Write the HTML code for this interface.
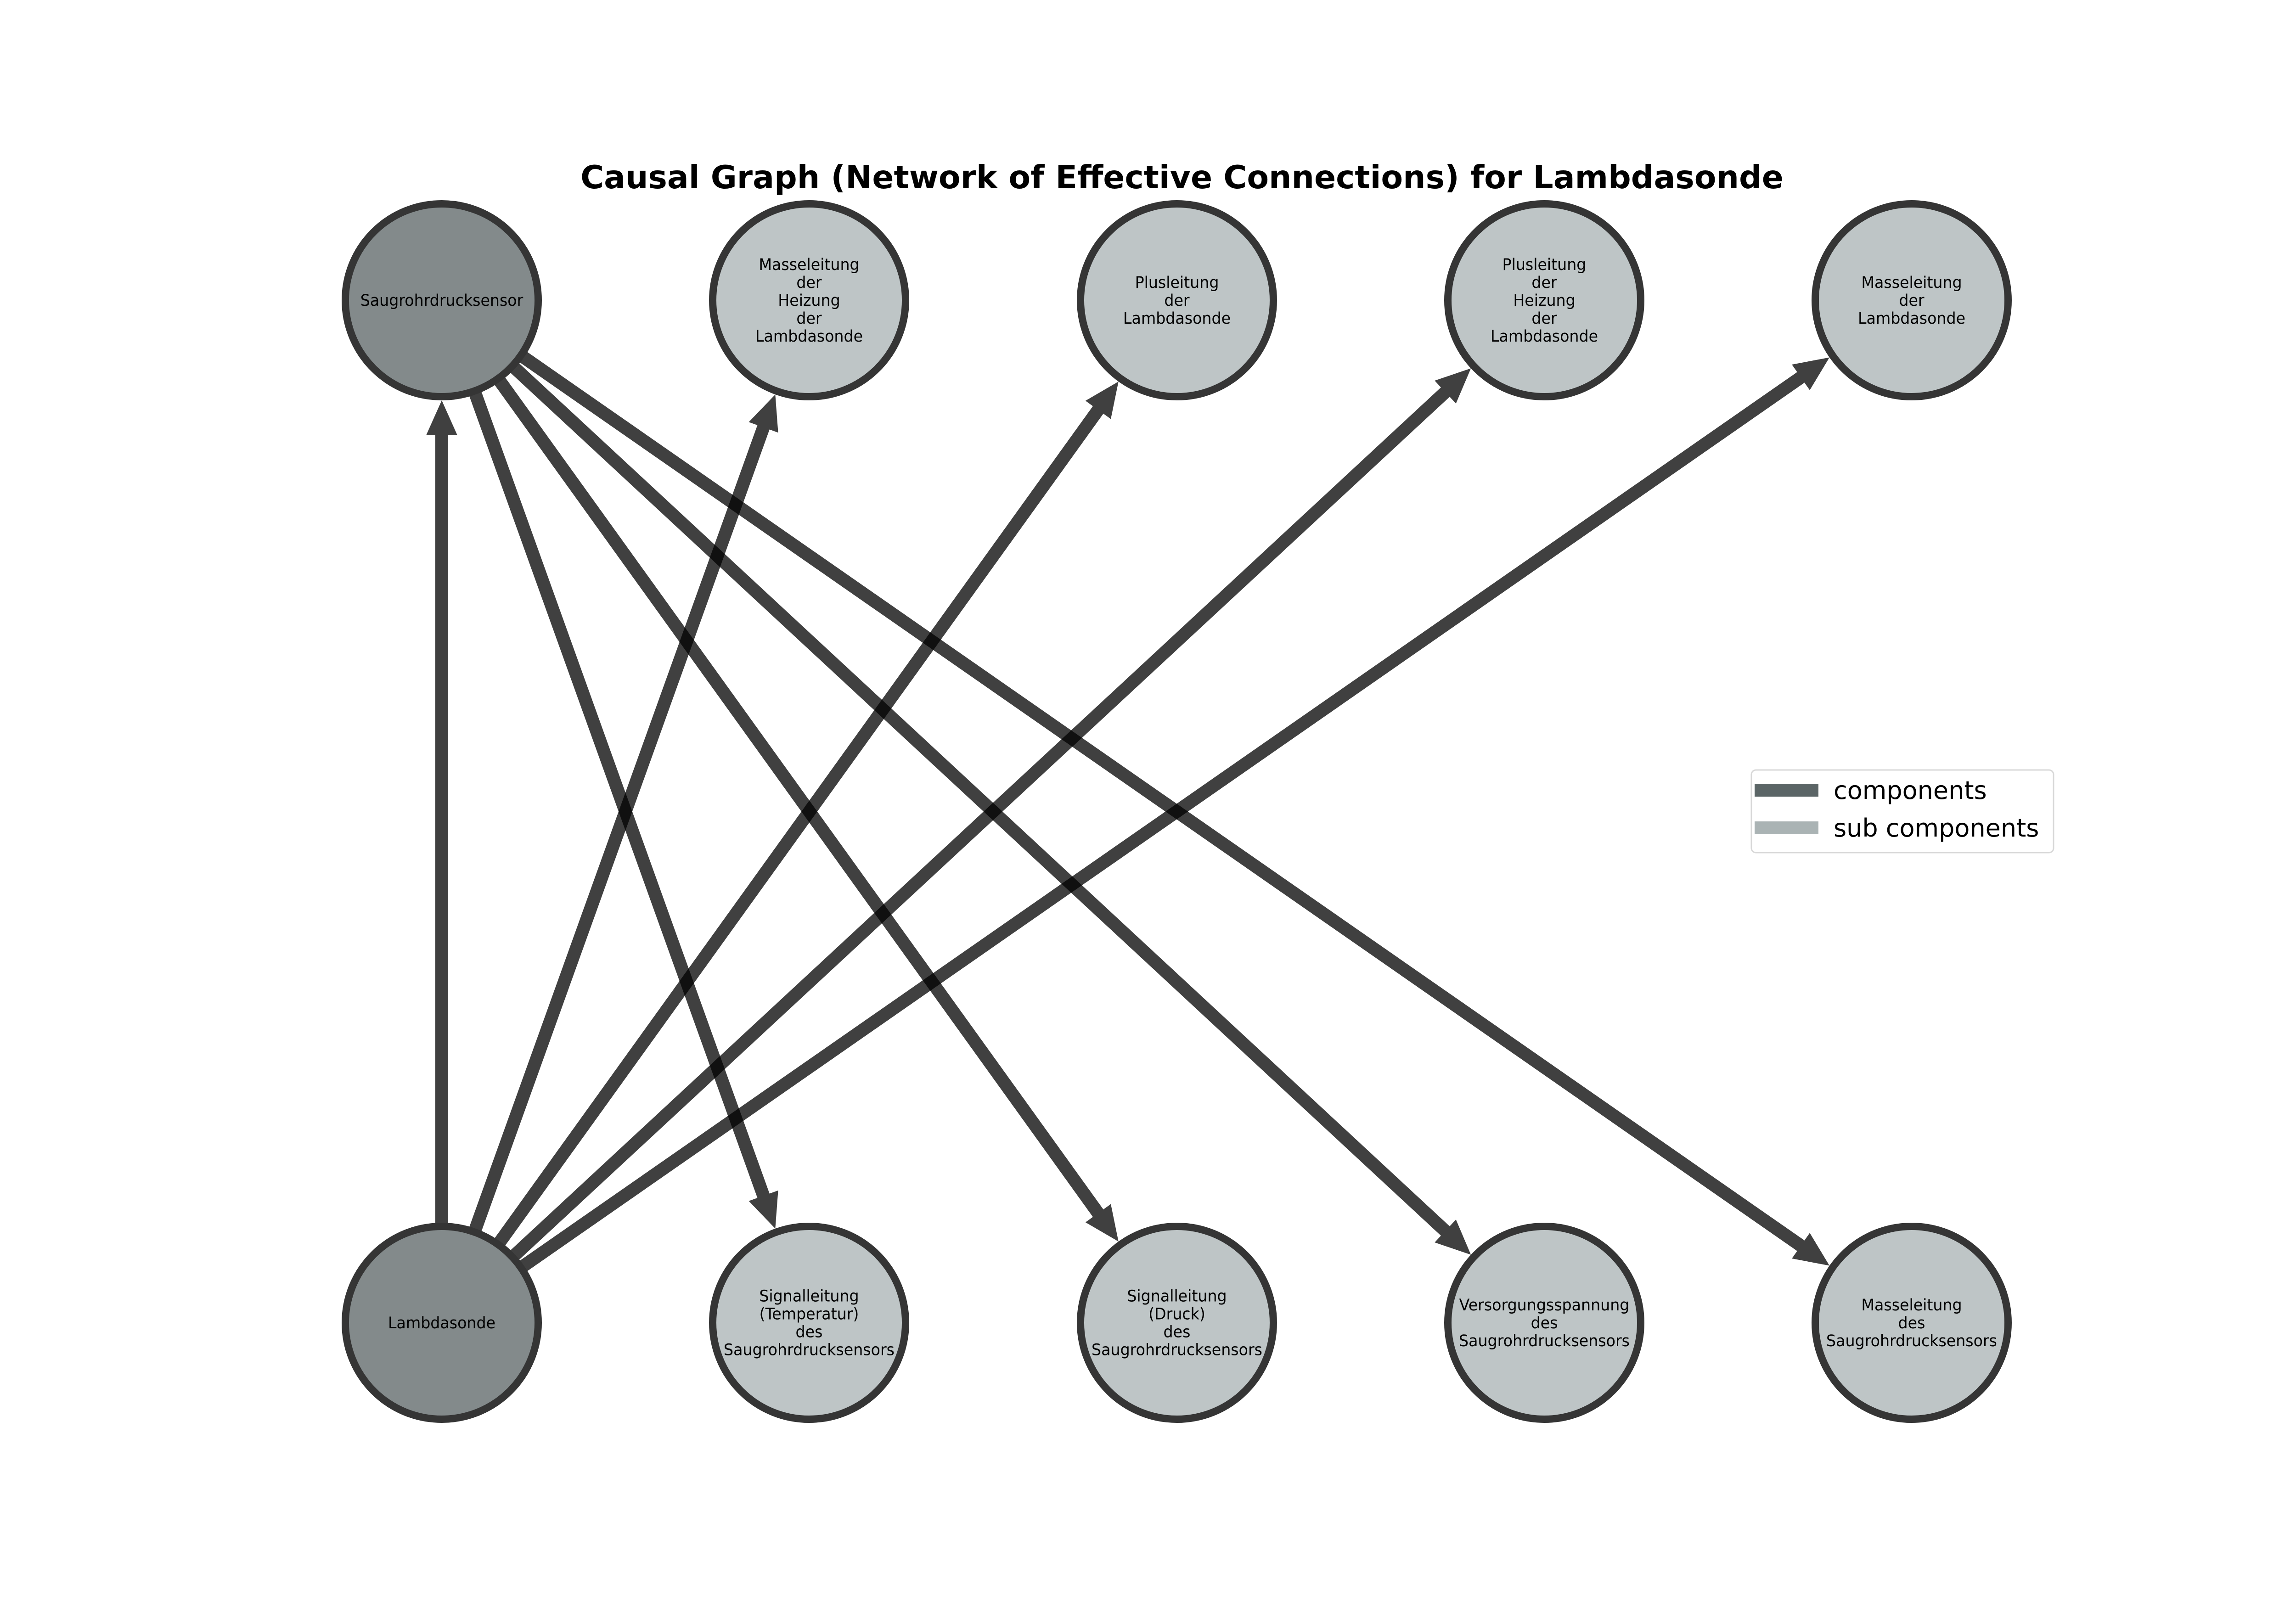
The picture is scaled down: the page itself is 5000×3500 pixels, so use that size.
<!DOCTYPE html>
<html><head><meta charset="utf-8">
<style>
html,body{margin:0;padding:0;background:#fff;}
svg{display:block;}
text{font-family:"DejaVu Sans","Liberation Sans",sans-serif;}
</style></head>
<body>
<svg id="s" width="5000" height="3500" viewBox="0 0 5000 3500" xmlns="http://www.w3.org/2000/svg">
<rect width="5000" height="3500" fill="#fff"/>
<text x="2574" y="410" font-size="69.5" font-weight="bold" text-anchor="middle">Causal Graph (Network of Effective Connections) for Lambdasonde</text>
<g id="edges"></g>
<g id="nodes"></g>
<rect x="3814" y="1677" width="658" height="180" rx="10" fill="#fff" stroke="#d8d8d8" stroke-width="3"/>
<rect x="3821" y="1707" width="139" height="28" fill="#5b6566"/>
<rect x="3821" y="1789" width="139" height="28" fill="#aab3b4"/>
<text x="3993" y="1740" font-size="54">components</text>
<text x="3993" y="1822" font-size="54">sub components</text>
</svg>
<script>
var NS="http://www.w3.org/2000/svg";
var xs=[962,1762,2563,3363,4163], yT=654, yB=2881, R=218;
var nodes=[
 [xs[0],yT,1,["Saugrohrdrucksensor"]],
 [xs[1],yT,0,["Masseleitung","der","Heizung","der","Lambdasonde"]],
 [xs[2],yT,0,["Plusleitung","der","Lambdasonde"]],
 [xs[3],yT,0,["Plusleitung","der","Heizung","der","Lambdasonde"]],
 [xs[4],yT,0,["Masseleitung","der","Lambdasonde"]],
 [xs[0],yB,1,["Lambdasonde"]],
 [xs[1],yB,0,["Signalleitung","(Temperatur)","des","Saugrohrdrucksensors"]],
 [xs[2],yB,0,["Signalleitung","(Druck)","des","Saugrohrdrucksensors"]],
 [xs[3],yB,0,["Versorgungsspannung","des","Saugrohrdrucksensors"]],
 [xs[4],yB,0,["Masseleitung","des","Saugrohrdrucksensors"]]
];
var edges=[[5,0],[5,1],[5,2],[5,3],[5,4],[0,6],[0,7],[0,8],[0,9]];
var eg=document.getElementById("edges"), ng=document.getElementById("nodes");
edges.forEach(function(e){
 var a=nodes[e[0]],b=nodes[e[1]];
 var dx=b[0]-a[0],dy=b[1]-a[1],L=Math.hypot(dx,dy),ux=dx/L,uy=dy/L,px=-uy,py=ux;
 var sx=a[0]+ux*(R-10),sy=a[1]+uy*(R-10);
 var tx=b[0]-ux*R,ty=b[1]-uy*R;
 var hl=76,hw=34,bx=tx-ux*hl,by=ty-uy*hl;
 var w=14;
 var p=document.createElementNS(NS,"polygon");
 var pts=[[sx+px*w,sy+py*w],[bx+px*w,by+py*w],[bx+px*hw,by+py*hw],[tx,ty],[bx-px*hw,by-py*hw],[bx-px*w,by-py*w],[sx-px*w,sy-py*w]];
 p.setAttribute("points",pts.map(function(q){return q[0].toFixed(1)+","+q[1].toFixed(1)}).join(" "));
 p.setAttribute("fill","#000");p.setAttribute("fill-opacity","0.75");
 eg.appendChild(p);
});
nodes.forEach(function(n){
 var c=document.createElementNS(NS,"circle");
 c.setAttribute("cx",n[0]);c.setAttribute("cy",n[1]);c.setAttribute("r",R-8);
 c.setAttribute("fill",n[2]?"#838a8b":"#bec5c6");
 c.setAttribute("stroke","#353535");c.setAttribute("stroke-width","16");
 ng.appendChild(c);
 var lines=n[3],lh=39,y0=n[1]-(lines.length-1)*lh/2+12;
 lines.forEach(function(t,i){
  var tx=document.createElementNS(NS,"text");
  tx.setAttribute("x",n[0]);tx.setAttribute("y",y0+i*lh);
  tx.setAttribute("font-size","35");tx.setAttribute("text-anchor","middle");
  tx.setAttribute("transform","translate("+n[0]+",0) scale(0.95,1) translate("+(-n[0])+",0)");
  tx.textContent=t;ng.appendChild(tx);
 });
});
</script>
</body></html>
